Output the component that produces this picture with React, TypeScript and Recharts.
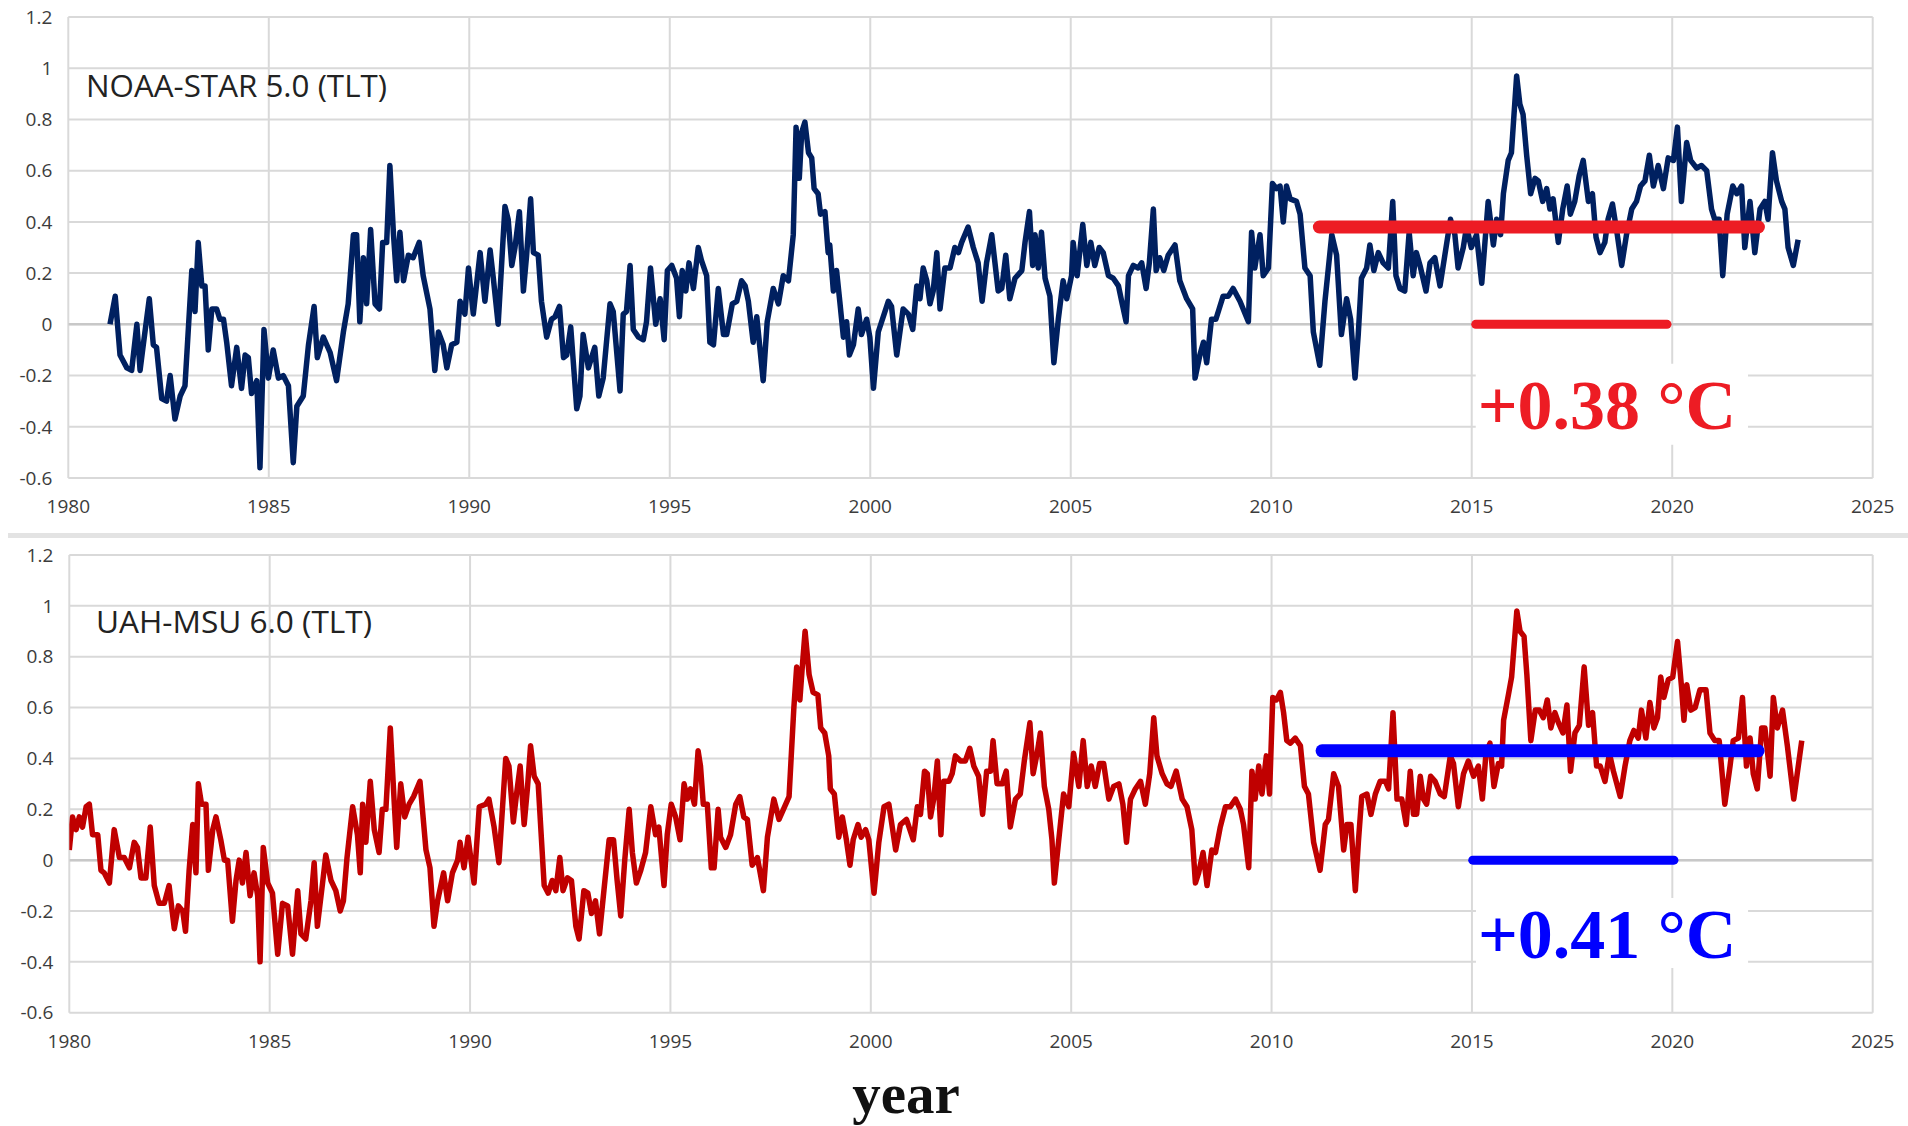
import React from "react";
import { LineChart, Line, XAxis, YAxis, CartesianGrid, ReferenceArea, Customized } from "recharts";

// axes
const yearTicks = [1980, 1985, 1990, 1995, 2000, 2005, 2010, 2015, 2020, 2025];
const anomalyTicks = [-0.6, -0.4, -0.2, 0, 0.2, 0.4, 0.6, 0.8, 1, 1.2];

// NOAA-STAR 5.0 TLT, monthly anomaly
const noaaSeries: [number, number][] = [
  [1981.04, 0.0], [1981.17, 0.11], [1981.29, -0.12], [1981.46, -0.17], [1981.58, -0.18], [1981.71, 0.0],
  [1981.79, -0.18], [1981.87, -0.08], [1982.02, 0.1], [1982.12, -0.08], [1982.2, -0.09], [1982.33, -0.29],
  [1982.45, -0.3], [1982.54, -0.2], [1982.66, -0.37], [1982.79, -0.28], [1982.91, -0.24], [1983.08, 0.21],
  [1983.16, 0.05], [1983.24, 0.32], [1983.33, 0.15], [1983.41, 0.15], [1983.49, -0.1], [1983.58, 0.06],
  [1983.7, 0.06], [1983.78, 0.02], [1983.87, 0.02], [1983.95, -0.07], [1984.07, -0.24], [1984.2, -0.09],
  [1984.32, -0.25], [1984.41, -0.12], [1984.49, -0.13], [1984.57, -0.27], [1984.7, -0.22], [1984.78, -0.56],
  [1984.88, -0.02], [1984.99, -0.21], [1985.11, -0.1], [1985.24, -0.21], [1985.36, -0.2], [1985.49, -0.24],
  [1985.61, -0.54], [1985.7, -0.32], [1985.86, -0.28], [1985.99, -0.08], [1986.13, 0.07], [1986.21, -0.13],
  [1986.36, -0.05], [1986.53, -0.11], [1986.69, -0.22], [1986.86, -0.03], [1986.98, 0.08], [1987.11, 0.35],
  [1987.19, 0.35], [1987.27, 0.01], [1987.36, 0.26], [1987.44, 0.08], [1987.54, 0.37], [1987.65, 0.08],
  [1987.76, 0.06], [1987.84, 0.32], [1987.94, 0.32], [1988.02, 0.62], [1988.11, 0.35], [1988.19, 0.17],
  [1988.27, 0.36], [1988.36, 0.17], [1988.48, 0.27], [1988.6, 0.26], [1988.75, 0.32], [1988.85, 0.19],
  [1989.02, 0.06], [1989.14, -0.18], [1989.23, -0.03], [1989.35, -0.08], [1989.44, -0.17], [1989.56, -0.08],
  [1989.69, -0.07], [1989.77, 0.09], [1989.89, 0.04], [1989.98, 0.22], [1990.1, 0.04], [1990.27, 0.28],
  [1990.39, 0.09], [1990.52, 0.29], [1990.6, 0.18], [1990.72, 0.0], [1990.89, 0.46], [1990.97, 0.41],
  [1991.06, 0.23], [1991.14, 0.3], [1991.25, 0.44], [1991.35, 0.13], [1991.43, 0.27], [1991.53, 0.49],
  [1991.6, 0.28], [1991.72, 0.27], [1991.8, 0.09], [1991.93, -0.05], [1992.05, 0.02], [1992.14, 0.03],
  [1992.25, 0.07], [1992.35, -0.13], [1992.43, -0.12], [1992.53, -0.01], [1992.68, -0.33], [1992.76, -0.28],
  [1992.84, -0.04], [1992.97, -0.17], [1993.13, -0.09], [1993.23, -0.28], [1993.34, -0.21], [1993.51, 0.08],
  [1993.59, 0.05], [1993.76, -0.26], [1993.84, 0.04], [1993.92, 0.05], [1994.01, 0.23], [1994.09, -0.02],
  [1994.22, -0.05], [1994.34, -0.06], [1994.42, 0.01], [1994.52, 0.22], [1994.65, 0.0], [1994.76, 0.1],
  [1994.86, -0.06], [1994.94, 0.21], [1995.05, 0.23], [1995.17, 0.18], [1995.24, 0.03], [1995.31, 0.21],
  [1995.4, 0.13], [1995.48, 0.24], [1995.59, 0.14], [1995.71, 0.3], [1995.79, 0.25], [1995.92, 0.19],
  [1996.0, -0.07], [1996.09, -0.08], [1996.21, 0.14], [1996.34, -0.04], [1996.42, -0.04], [1996.56, 0.08],
  [1996.67, 0.09], [1996.79, 0.17], [1996.88, 0.15], [1996.96, 0.09], [1997.08, -0.07], [1997.17, 0.03],
  [1997.33, -0.22], [1997.43, 0.01], [1997.58, 0.14], [1997.71, 0.08], [1997.83, 0.19], [1997.96, 0.17],
  [1998.08, 0.35], [1998.15, 0.77], [1998.23, 0.57], [1998.29, 0.75], [1998.37, 0.79], [1998.46, 0.67],
  [1998.54, 0.65], [1998.6, 0.53], [1998.7, 0.51], [1998.76, 0.43], [1998.87, 0.44], [1998.95, 0.28],
  [1998.99, 0.31], [1999.08, 0.13], [1999.16, 0.21], [1999.24, 0.09], [1999.33, -0.05], [1999.41, 0.01],
  [1999.48, -0.12], [1999.58, -0.08], [1999.7, 0.06], [1999.78, -0.04], [1999.91, 0.02], [1999.99, -0.05],
  [2000.08, -0.25], [2000.2, -0.03], [2000.45, 0.09], [2000.53, 0.07], [2000.66, -0.12], [2000.82, 0.06],
  [2000.95, 0.04], [2001.06, -0.02], [2001.16, 0.15], [2001.24, 0.1], [2001.32, 0.22], [2001.41, 0.17],
  [2001.49, 0.08], [2001.57, 0.13], [2001.66, 0.28], [2001.74, 0.06], [2001.86, 0.22], [2001.99, 0.22],
  [2002.11, 0.3], [2002.2, 0.28], [2002.28, 0.32], [2002.44, 0.38], [2002.57, 0.3], [2002.69, 0.24],
  [2002.79, 0.09], [2002.9, 0.24], [2003.03, 0.35], [2003.11, 0.24], [2003.19, 0.13], [2003.28, 0.14],
  [2003.38, 0.27], [2003.48, 0.1], [2003.61, 0.18], [2003.78, 0.21], [2003.86, 0.32], [2003.97, 0.44],
  [2004.05, 0.23], [2004.11, 0.35], [2004.19, 0.22], [2004.27, 0.36], [2004.36, 0.18], [2004.48, 0.11],
  [2004.58, -0.15], [2004.69, 0.02], [2004.81, 0.17], [2004.9, 0.1], [2005.02, 0.19], [2005.06, 0.32],
  [2005.16, 0.19], [2005.3, 0.39], [2005.4, 0.23], [2005.5, 0.32], [2005.6, 0.23], [2005.71, 0.3],
  [2005.81, 0.28], [2005.94, 0.19], [2006.06, 0.18], [2006.19, 0.15], [2006.27, 0.09], [2006.38, 0.01],
  [2006.44, 0.19], [2006.56, 0.23], [2006.68, 0.22], [2006.77, 0.24], [2006.88, 0.14], [2006.96, 0.24],
  [2007.06, 0.45], [2007.13, 0.21], [2007.22, 0.26], [2007.32, 0.21], [2007.43, 0.27], [2007.6, 0.31],
  [2007.72, 0.17], [2007.89, 0.1], [2008.04, 0.06], [2008.1, -0.21], [2008.22, -0.12], [2008.31, -0.07],
  [2008.39, -0.15], [2008.51, 0.02], [2008.62, 0.02], [2008.7, 0.06], [2008.8, 0.11], [2008.93, 0.11],
  [2009.05, 0.14], [2009.22, 0.09], [2009.3, 0.06], [2009.43, 0.01], [2009.51, 0.36], [2009.59, 0.22],
  [2009.72, 0.35], [2009.8, 0.19], [2009.93, 0.22], [2010.03, 0.55], [2010.13, 0.53], [2010.22, 0.54],
  [2010.3, 0.4], [2010.38, 0.54], [2010.47, 0.49], [2010.63, 0.48], [2010.72, 0.43], [2010.84, 0.22],
  [2010.97, 0.19], [2011.05, -0.03], [2011.21, -0.16], [2011.34, 0.09], [2011.51, 0.35], [2011.63, 0.27],
  [2011.75, -0.04], [2011.88, 0.1], [2011.98, 0.02], [2012.09, -0.21], [2012.17, -0.04], [2012.25, 0.18],
  [2012.38, 0.22], [2012.46, 0.31], [2012.56, 0.21], [2012.67, 0.28], [2012.79, 0.24], [2012.92, 0.22],
  [2013.03, 0.48], [2013.11, 0.19], [2013.21, 0.14], [2013.33, 0.13], [2013.44, 0.36], [2013.54, 0.19],
  [2013.62, 0.28], [2013.71, 0.23], [2013.86, 0.13], [2013.96, 0.24], [2014.08, 0.26], [2014.21, 0.15],
  [2014.33, 0.27], [2014.47, 0.41], [2014.58, 0.35], [2014.66, 0.22], [2014.79, 0.3], [2014.87, 0.38],
  [2014.99, 0.3], [2015.12, 0.35], [2015.25, 0.16], [2015.33, 0.32], [2015.41, 0.48], [2015.54, 0.31],
  [2015.62, 0.41], [2015.72, 0.35], [2015.79, 0.51], [2015.91, 0.64], [2015.99, 0.67], [2016.12, 0.97],
  [2016.2, 0.86], [2016.28, 0.82], [2016.37, 0.66], [2016.47, 0.51], [2016.58, 0.57], [2016.66, 0.56],
  [2016.77, 0.48], [2016.87, 0.53], [2016.95, 0.45], [2017.03, 0.49], [2017.16, 0.32], [2017.27, 0.45],
  [2017.38, 0.54], [2017.46, 0.43], [2017.57, 0.48], [2017.68, 0.58], [2017.78, 0.64], [2017.91, 0.48],
  [2018.01, 0.51], [2018.1, 0.34], [2018.2, 0.28], [2018.32, 0.32], [2018.4, 0.41], [2018.51, 0.47],
  [2018.63, 0.35], [2018.74, 0.23], [2018.86, 0.35], [2018.99, 0.45], [2019.11, 0.48], [2019.21, 0.54],
  [2019.32, 0.56], [2019.43, 0.66], [2019.53, 0.54], [2019.65, 0.62], [2019.78, 0.53], [2019.9, 0.65],
  [2020.03, 0.64], [2020.13, 0.77], [2020.23, 0.48], [2020.36, 0.71], [2020.46, 0.64], [2020.61, 0.61],
  [2020.73, 0.62], [2020.86, 0.6], [2020.98, 0.45], [2021.06, 0.41], [2021.17, 0.41], [2021.26, 0.19],
  [2021.37, 0.43], [2021.51, 0.54], [2021.61, 0.51], [2021.73, 0.54], [2021.81, 0.3], [2021.94, 0.48],
  [2022.06, 0.28], [2022.19, 0.45], [2022.31, 0.48], [2022.39, 0.41], [2022.5, 0.67], [2022.6, 0.56],
  [2022.73, 0.48], [2022.81, 0.45], [2022.89, 0.3], [2023.02, 0.23], [2023.14, 0.33],
];

// UAH-MSU 6.0 TLT, monthly anomaly
const uahSeries: [number, number][] = [
  [1980.0, 0.04], [1980.08, 0.17], [1980.17, 0.12], [1980.25, 0.17], [1980.33, 0.13], [1980.42, 0.21],
  [1980.5, 0.22], [1980.58, 0.1], [1980.71, 0.1], [1980.79, -0.04], [1980.87, -0.05], [1981.0, -0.09],
  [1981.12, 0.12], [1981.25, 0.01], [1981.37, 0.01], [1981.5, -0.03], [1981.62, 0.07], [1981.7, 0.05],
  [1981.79, -0.07], [1981.91, -0.07], [1982.02, 0.13], [1982.12, -0.1], [1982.24, -0.17], [1982.37, -0.17],
  [1982.49, -0.1], [1982.62, -0.27], [1982.72, -0.18], [1982.83, -0.2], [1982.9, -0.28], [1982.99, -0.04],
  [1983.08, 0.14], [1983.16, -0.05], [1983.22, 0.3], [1983.3, 0.22], [1983.41, 0.22], [1983.47, -0.04],
  [1983.58, 0.12], [1983.66, 0.17], [1983.78, 0.08], [1983.87, 0.0], [1983.95, 0.0], [1984.07, -0.24],
  [1984.16, -0.08], [1984.24, 0.0], [1984.32, -0.09], [1984.41, 0.03], [1984.51, -0.14], [1984.61, -0.05],
  [1984.7, -0.14], [1984.76, -0.4], [1984.84, 0.05], [1984.95, -0.09], [1985.07, -0.13], [1985.2, -0.37],
  [1985.32, -0.17], [1985.45, -0.18], [1985.57, -0.37], [1985.7, -0.12], [1985.78, -0.29], [1985.9, -0.31],
  [1986.03, -0.16], [1986.11, -0.01], [1986.19, -0.26], [1986.32, -0.09], [1986.4, 0.02], [1986.53, -0.08],
  [1986.65, -0.12], [1986.76, -0.2], [1986.84, -0.16], [1986.93, 0.01], [1987.07, 0.21], [1987.19, 0.1],
  [1987.26, -0.05], [1987.32, 0.22], [1987.4, 0.07], [1987.51, 0.31], [1987.61, 0.12], [1987.73, 0.03],
  [1987.81, 0.2], [1987.9, 0.2], [1988.01, 0.52], [1988.11, 0.22], [1988.17, 0.05], [1988.27, 0.3],
  [1988.37, 0.17], [1988.48, 0.22], [1988.59, 0.25], [1988.75, 0.31], [1988.9, 0.04], [1989.0, -0.03],
  [1989.1, -0.26], [1989.19, -0.16], [1989.34, -0.05], [1989.44, -0.16], [1989.56, -0.05], [1989.69, 0.0],
  [1989.75, 0.07], [1989.85, -0.03], [1989.95, 0.09], [1990.1, -0.09], [1990.23, 0.21], [1990.39, 0.22],
  [1990.47, 0.24], [1990.6, 0.13], [1990.72, -0.01], [1990.89, 0.4], [1990.97, 0.37], [1991.08, 0.15],
  [1991.16, 0.26], [1991.25, 0.37], [1991.35, 0.14], [1991.43, 0.28], [1991.51, 0.45], [1991.6, 0.33],
  [1991.7, 0.3], [1991.85, -0.1], [1991.95, -0.13], [1992.05, -0.08], [1992.14, -0.12], [1992.24, 0.01],
  [1992.32, -0.12], [1992.43, -0.07], [1992.53, -0.08], [1992.64, -0.26], [1992.72, -0.31], [1992.84, -0.12],
  [1992.94, -0.13], [1993.03, -0.21], [1993.13, -0.16], [1993.23, -0.29], [1993.34, -0.12], [1993.47, 0.08],
  [1993.58, 0.08], [1993.67, -0.08], [1993.76, -0.22], [1993.86, 0.0], [1993.97, 0.2], [1994.05, 0.03],
  [1994.15, -0.09], [1994.26, -0.04], [1994.38, 0.03], [1994.51, 0.21], [1994.63, 0.1], [1994.71, 0.13],
  [1994.84, -0.1], [1994.92, 0.1], [1995.02, 0.22], [1995.13, 0.17], [1995.24, 0.08], [1995.34, 0.3],
  [1995.42, 0.24], [1995.5, 0.28], [1995.6, 0.22], [1995.69, 0.43], [1995.75, 0.37], [1995.82, 0.22],
  [1995.92, 0.22], [1996.02, -0.03], [1996.09, -0.03], [1996.19, 0.2], [1996.25, 0.09], [1996.38, 0.05],
  [1996.5, 0.1], [1996.63, 0.22], [1996.73, 0.25], [1996.83, 0.17], [1996.92, 0.16], [1997.04, -0.02],
  [1997.17, 0.01], [1997.32, -0.12], [1997.42, 0.09], [1997.58, 0.24], [1997.71, 0.16], [1997.85, 0.21],
  [1997.96, 0.25], [1998.08, 0.6], [1998.15, 0.76], [1998.23, 0.63], [1998.29, 0.76], [1998.36, 0.9],
  [1998.46, 0.73], [1998.56, 0.66], [1998.68, 0.65], [1998.75, 0.52], [1998.85, 0.5], [1998.95, 0.41],
  [1998.99, 0.28], [1999.09, 0.26], [1999.2, 0.09], [1999.29, 0.17], [1999.39, 0.08], [1999.48, -0.02],
  [1999.56, 0.08], [1999.68, 0.14], [1999.76, 0.09], [1999.87, 0.12], [1999.95, 0.08], [2000.08, -0.13],
  [2000.2, 0.07], [2000.33, 0.21], [2000.45, 0.22], [2000.62, 0.04], [2000.74, 0.14], [2000.89, 0.16],
  [2001.06, 0.08], [2001.16, 0.21], [2001.24, 0.18], [2001.34, 0.35], [2001.41, 0.34], [2001.49, 0.17],
  [2001.57, 0.24], [2001.66, 0.39], [2001.75, 0.1], [2001.82, 0.31], [2001.95, 0.31], [2002.03, 0.34],
  [2002.11, 0.41], [2002.24, 0.39], [2002.36, 0.39], [2002.47, 0.44], [2002.57, 0.37], [2002.69, 0.33],
  [2002.79, 0.18], [2002.89, 0.35], [2002.99, 0.35], [2003.05, 0.47], [2003.15, 0.3], [2003.28, 0.3],
  [2003.38, 0.35], [2003.48, 0.13], [2003.61, 0.24], [2003.73, 0.26], [2003.83, 0.39], [2003.97, 0.54],
  [2004.05, 0.34], [2004.15, 0.42], [2004.23, 0.5], [2004.33, 0.29], [2004.44, 0.2], [2004.52, 0.08],
  [2004.58, -0.09], [2004.69, 0.08], [2004.81, 0.26], [2004.94, 0.21], [2005.06, 0.42], [2005.19, 0.29],
  [2005.3, 0.47], [2005.4, 0.29], [2005.5, 0.37], [2005.6, 0.29], [2005.71, 0.38], [2005.81, 0.38],
  [2005.94, 0.24], [2006.06, 0.29], [2006.19, 0.3], [2006.29, 0.22], [2006.38, 0.07], [2006.48, 0.24],
  [2006.6, 0.28], [2006.73, 0.31], [2006.85, 0.22], [2006.96, 0.34], [2007.06, 0.56], [2007.14, 0.41],
  [2007.27, 0.34], [2007.39, 0.3], [2007.49, 0.29], [2007.62, 0.35], [2007.77, 0.24], [2007.89, 0.21],
  [2008.01, 0.12], [2008.1, -0.09], [2008.18, -0.05], [2008.29, 0.03], [2008.39, -0.1], [2008.51, 0.04],
  [2008.6, 0.03], [2008.72, 0.13], [2008.85, 0.21], [2008.97, 0.21], [2009.1, 0.24], [2009.22, 0.2],
  [2009.3, 0.14], [2009.43, -0.03], [2009.51, 0.35], [2009.59, 0.24], [2009.68, 0.37], [2009.76, 0.26],
  [2009.87, 0.41], [2009.95, 0.26], [2010.03, 0.64], [2010.12, 0.63], [2010.22, 0.66], [2010.3, 0.58],
  [2010.38, 0.47], [2010.47, 0.46], [2010.59, 0.48], [2010.72, 0.45], [2010.82, 0.29], [2010.92, 0.26],
  [2011.05, 0.07], [2011.21, -0.04], [2011.34, 0.14], [2011.42, 0.16], [2011.55, 0.34], [2011.67, 0.29],
  [2011.8, 0.04], [2011.88, 0.14], [2011.98, 0.14], [2012.09, -0.12], [2012.17, 0.08], [2012.25, 0.25],
  [2012.38, 0.26], [2012.48, 0.18], [2012.59, 0.26], [2012.71, 0.31], [2012.84, 0.31], [2012.92, 0.28],
  [2013.03, 0.58], [2013.13, 0.24], [2013.25, 0.24], [2013.36, 0.14], [2013.46, 0.35], [2013.54, 0.18],
  [2013.62, 0.18], [2013.71, 0.33], [2013.79, 0.24], [2013.87, 0.22], [2013.97, 0.33], [2014.08, 0.31],
  [2014.21, 0.26], [2014.31, 0.25], [2014.46, 0.41], [2014.54, 0.38], [2014.66, 0.21], [2014.79, 0.34],
  [2014.91, 0.39], [2015.04, 0.33], [2015.16, 0.37], [2015.26, 0.24], [2015.35, 0.42], [2015.45, 0.46],
  [2015.55, 0.29], [2015.66, 0.38], [2015.74, 0.37], [2015.79, 0.55], [2015.91, 0.65], [2015.99, 0.72],
  [2016.12, 0.98], [2016.2, 0.9], [2016.3, 0.88], [2016.37, 0.73], [2016.47, 0.47], [2016.58, 0.59],
  [2016.68, 0.59], [2016.78, 0.56], [2016.88, 0.63], [2016.97, 0.52], [2017.07, 0.58], [2017.16, 0.54],
  [2017.27, 0.5], [2017.37, 0.61], [2017.46, 0.35], [2017.57, 0.5], [2017.68, 0.53], [2017.8, 0.76],
  [2017.91, 0.53], [2018.01, 0.58], [2018.11, 0.37], [2018.2, 0.37], [2018.32, 0.31], [2018.43, 0.42],
  [2018.53, 0.35], [2018.7, 0.25], [2018.82, 0.37], [2018.94, 0.47], [2019.04, 0.51], [2019.15, 0.48],
  [2019.23, 0.59], [2019.34, 0.48], [2019.44, 0.62], [2019.54, 0.52], [2019.63, 0.56], [2019.71, 0.72],
  [2019.79, 0.64], [2019.9, 0.71], [2020.01, 0.72], [2020.13, 0.86], [2020.23, 0.68], [2020.29, 0.55],
  [2020.36, 0.69], [2020.46, 0.59], [2020.57, 0.6], [2020.69, 0.67], [2020.84, 0.67], [2020.94, 0.5],
  [2021.06, 0.47], [2021.17, 0.47], [2021.31, 0.22], [2021.44, 0.37], [2021.52, 0.47], [2021.65, 0.48],
  [2021.75, 0.64], [2021.85, 0.37], [2021.94, 0.48], [2022.02, 0.34], [2022.12, 0.28], [2022.23, 0.52],
  [2022.31, 0.52], [2022.44, 0.33], [2022.52, 0.64], [2022.62, 0.52], [2022.75, 0.59], [2022.87, 0.45],
  [2023.03, 0.24], [2023.23, 0.47],
];

// hand-drawn annotation bars: mean level since 2011 and the 2015-2020 base bar
const noaaMean: [number, number][] = [[2011.2, 0.38], [2022.15, 0.38]];
const noaaBase: [number, number][] = [[2015.1, 0], [2019.87, 0]];
const uahMean: [number, number][] = [[2011.26, 0.43], [2022.14, 0.43]];
const uahBase: [number, number][] = [[2015.02, 0], [2020.04, 0]];
const zeroLine: [number, number][] = [[1980, 0], [2025, 0]];

const toPts = (arr: [number, number][]) => arr.map(([year, v]) => ({ year, v }));

const tickStyle = { fill: "#3c3c3c", fontSize: 19, fontFamily: "Open Sans" };

interface PanelProps {
  height: number;
  margin: { top: number; right: number; left: number; bottom: number };
  series: [number, number][];
  color: string;
  mean: [number, number][];
  base: [number, number][];
  barColor: string;
  title: string;
  titleX: number;
  titleY: number;
  titleWidth: number;
  label: string;
  box: [number, number, number, number];
  footer?: boolean;
}

function Panel(p: PanelProps) {
  return (
    <LineChart width={1908} height={p.height} margin={p.margin}>
      <CartesianGrid stroke="#d9d9d9" strokeWidth={2} />
      <XAxis
        type="number"
        dataKey="year"
        domain={[1980, 2025]}
        ticks={yearTicks}
        allowDataOverflow
        axisLine={false}
        tickLine={false}
        tickSize={6}
        tickMargin={16}
        height={40}
        tick={tickStyle}
      />
      <YAxis
        type="number"
        domain={[-0.6, 1.2]}
        ticks={anomalyTicks}
        allowDataOverflow
        axisLine={false}
        tickLine={false}
        tickSize={6}
        tickMargin={10}
        width={60}
        tick={tickStyle}
        tickFormatter={(v: number) => String(v)}
      />
      <ReferenceArea
        x1={p.box[0]}
        x2={p.box[1]}
        y1={p.box[2]}
        y2={p.box[3]}
        fill="#ffffff"
        fillOpacity={1}
        stroke="none"
        label={{
          value: p.label,
          position: "insideLeft",
          offset: 2,
          fill: p.barColor,
          fontSize: 70,
          fontWeight: 700,
          fontFamily: "Liberation Serif",
        }}
      />
      <Line data={toPts(zeroLine)} dataKey="v" stroke="#c8c8c8" strokeWidth={2.5} dot={false} activeDot={false} isAnimationActive={false} />
      <Line
        data={toPts(p.series)}
        dataKey="v"
        type="linear"
        stroke={p.color}
        strokeWidth={5.5}
        strokeLinejoin="round"
        dot={false}
        activeDot={false}
        isAnimationActive={false}
      />
      <Line data={toPts(p.mean)} dataKey="v" stroke={p.barColor} strokeWidth={13} strokeLinecap="round" dot={false} activeDot={false} isAnimationActive={false} />
      <Line data={toPts(p.base)} dataKey="v" stroke={p.barColor} strokeWidth={9} strokeLinecap="round" dot={false} activeDot={false} isAnimationActive={false} />
      <Customized
        component={() => (
          <g>
            <text
              x={p.titleX}
              y={p.titleY}
              textLength={p.titleWidth}
              lengthAdjust="spacingAndGlyphs"
              fontFamily="Open Sans"
              fontSize={31}
              fill="#222"
            >
              {p.title}
            </text>
            {p.footer && (
              <text x={906} y={575} textAnchor="middle" fontFamily="Liberation Serif" fontWeight={700} fontSize={57} fill="#111">
                year
              </text>
            )}
          </g>
        )}
      />
    </LineChart>
  );
}

export default function App() {
  return (
    <div style={{ position: "absolute", left: 0, top: 0, width: 1908, height: 1126, background: "#fff", overflow: "hidden" }}>
      <div style={{ position: "absolute", left: 0, top: 0 }}>
        <Panel
          height={533}
          margin={{ top: 17, right: 35.3, left: 8.3, bottom: 15 }}
          series={noaaSeries}
          color="#002060"
          mean={noaaMean}
          base={noaaBase}
          barColor="#ed1c24"
          title="NOAA-STAR 5.0 (TLT)"
          titleX={86}
          titleY={97}
          titleWidth={301}
          label="+0.38 °C"
          box={[2015.1, 2021.89, -0.47, -0.154]}
        />
      </div>
      <div style={{ position: "absolute", left: 8, top: 533, width: 1900, height: 5, background: "#e3e3e3" }} />
      <div style={{ position: "absolute", left: 0, top: 538 }}>
        <Panel
          height={588}
          margin={{ top: 17, right: 35.3, left: 9.3, bottom: 73.3 }}
          series={uahSeries}
          color="#c00000"
          mean={uahMean}
          base={uahBase}
          barColor="#0000ff"
          title="UAH-MSU 6.0 (TLT)"
          titleX={96}
          titleY={95}
          titleWidth={276}
          label="+0.41 °C"
          box={[2015.1, 2021.89, -0.424, -0.149]}
          footer
        />
      </div>
    </div>
  );
}
